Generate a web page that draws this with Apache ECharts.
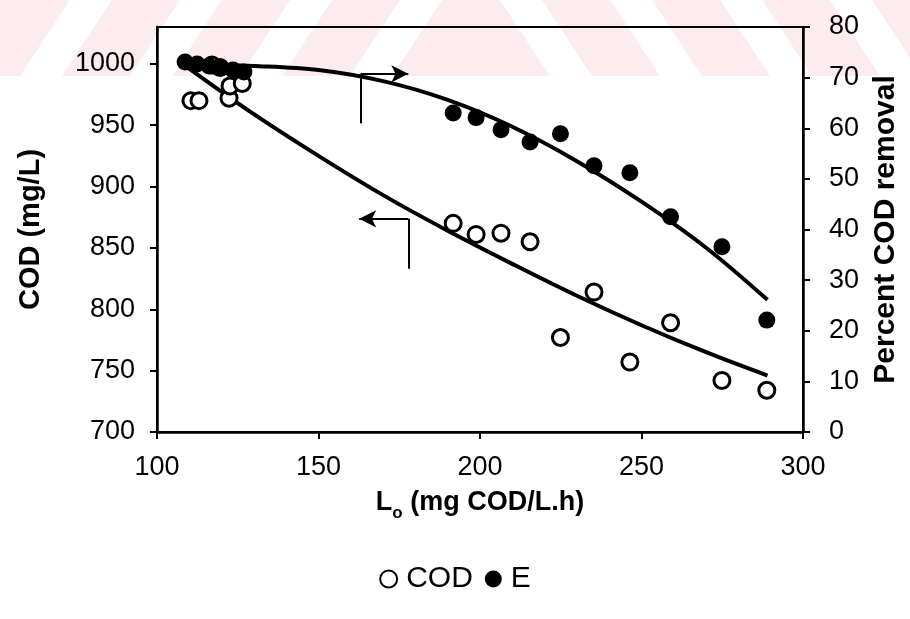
<!DOCTYPE html>
<html>
<head>
<meta charset="utf-8">
<script src="https://cdn.jsdelivr.net/npm/echarts@6/dist/echarts.min.js"></script>
<style>
  html, body { margin: 0; padding: 0; background: #fff; }
  #chart { width: 910px; height: 619px; }
</style>
</head>
<body>
<div id="chart"></div>
<script>
// Loading rate L_o (mg COD/L.h) and effluent COD (mg/L)
const codLoad  = [110.5, 113, 117, 119.5, 122.3, 122.6, 126.4, 191.7, 198.8, 206.5, 215.5, 224.9, 235.3, 246.4, 259.0, 274.9, 288.8];
const codValue = [970, 970, 999, 997, 972, 982, 984, 870, 861, 862, 855, 777, 814, 757, 789, 742, 734];

// Loading rate and percent COD removal E
const eLoad  = [108.7, 112.4, 116.1, 119.8, 123.5, 126.9, 191.7, 198.8, 206.5, 215.5, 224.9, 235.3, 246.4, 259.0, 274.9, 288.8];
const eValue = [73.1, 72.7, 72.3, 71.9, 71.5, 71.1, 63.0, 62.1, 59.7, 57.3, 58.9, 52.6, 51.2, 42.5, 36.6, 22.1];

// Trend curves through the data
const fitLoad = [109, 130, 150, 170, 190, 210, 230, 250, 270, 289];
const codFit  = [998, 959, 925, 893, 864, 837, 811, 787, 765, 746];
const eFit    = [72.7, 72.3, 71.5, 69.3, 65.6, 60.3, 53.5, 45.5, 36.4, 26.1];

// Axis ticks
const xTicks = { min: 100, max: 300, step: 50 };
const codTicks = { min: 700, max: 1030, step: 50 };
const eTicks = { min: 0, max: 80, step: 10 };

// Pointer arrows telling which axis each curve belongs to
const eArrow = { load: [163.1, 177.8], top: 70.75, bottom: 61.0 };
const codArrow = { load: [177.8, 162.6], top: 873.7, bottom: 833.1 };

const pairs = (xs, ys) => xs.map((x, i) => [x, ys[i]]);

const FONT = 'Liberation Sans, Arial, Helvetica, sans-serif';
const PINK = '#fdecef';

// faint diagonal banding along the top edge
const bands = [{ type: 'rect', shape: { x: 0, y: 0, width: 910, height: 76 }, style: { fill: PINK }, z: -10, silent: true }];
[70, 180, 290, 400].forEach(x0 => bands.push({
  type: 'polygon', z: -9, silent: true,
  shape: { points: [[x0, 0], [x0 + 42, 0], [x0 - 8, 76], [x0 - 50, 76]] },
  style: { fill: '#fff' }
}));
[500, 610, 720, 830].forEach(x0 => bands.push({
  type: 'polygon', z: -9, silent: true,
  shape: { points: [[x0, 0], [x0 + 42, 0], [x0 + 92, 76], [x0 + 50, 76]] },
  style: { fill: '#fff' }
}));

const axisLine = { show: true, lineStyle: { color: '#000', width: 2.5 } };
const axisTick = { show: true, inside: false, length: 7, lineStyle: { color: '#000', width: 2 } };
const tickFont = { color: '#000', fontSize: 27, fontFamily: FONT, formatter: v => String(v) };

const chart = echarts.init(document.getElementById('chart'), null, { renderer: 'canvas' });
chart.setOption({
  backgroundColor: '#fff',
  animation: false,
  graphic: bands,
  grid: {
    left: 157, right: 107, top: 27, bottom: 187,
    show: true, borderColor: '#000', borderWidth: 2, backgroundColor: 'transparent'
  },
  legend: {
    data: ['COD', 'E'],
    left: 'center', bottom: 20,
    icon: 'circle', itemWidth: 17, itemHeight: 17, itemGap: 12,
    textStyle: { color: '#000', fontSize: 30, fontFamily: FONT, padding: [0, 0, 0, 4] }
  },
  xAxis: {
    type: 'value', min: xTicks.min, max: xTicks.max, interval: xTicks.step,
    splitLine: { show: false },
    axisLine, axisTick,
    axisLabel: { ...tickFont, margin: 22 },
    name: '{a|L}{b|o}{a| (mg COD/L.h)}',
    nameLocation: 'middle', nameGap: 54,
    nameTextStyle: {
      color: '#000',
      rich: {
        a: { fontSize: 27, fontWeight: 'bold', fontFamily: FONT, color: '#000', lineHeight: 34, verticalAlign: 'middle' },
        b: { fontSize: 17, fontWeight: 'bold', fontFamily: FONT, color: '#000', lineHeight: 34, verticalAlign: 'bottom', padding: [0, 0, -2, 0] }
      }
    }
  },
  yAxis: [
    {
      type: 'value', min: codTicks.min, max: codTicks.max, interval: codTicks.step,
      position: 'left',
      splitLine: { show: false },
      axisLine, axisTick,
      axisLabel: { ...tickFont, margin: 22, showMaxLabel: false },
      name: 'COD (mg/L)', nameLocation: 'middle', nameGap: 112, nameRotate: 90,
      nameTextStyle: { color: '#000', fontSize: 29, fontWeight: 'bold', fontFamily: FONT }
    },
    {
      type: 'value', min: eTicks.min, max: eTicks.max, interval: eTicks.step,
      position: 'right',
      splitLine: { show: false },
      axisLine, axisTick,
      axisLabel: { ...tickFont, margin: 26 },
      name: 'Percent COD removal', nameLocation: 'middle', nameGap: 68, nameRotate: 90,
      nameTextStyle: { color: '#000', fontSize: 30, fontWeight: 'bold', fontFamily: FONT }
    }
  ],
  series: [
    {
      name: 'COD fit', type: 'line', yAxisIndex: 0, z: 2,
      data: pairs(fitLoad, codFit), smooth: 0.35, showSymbol: false,
      lineStyle: { color: '#000', width: 4 },
      markLine: {
        silent: true, animation: false, symbol: ['none', 'none'],
        label: { show: false },
        lineStyle: { color: '#000', width: 2, type: 'solid' },
        data: [
          [{ coord: [codArrow.load[0], codArrow.top] }, { coord: [codArrow.load[0], codArrow.bottom] }],
          [{ coord: [codArrow.load[0], codArrow.top] }, { coord: [codArrow.load[1], codArrow.top], symbol: 'arrow', symbolSize: [13, 17] }]
        ]
      }
    },
    {
      name: 'E fit', type: 'line', yAxisIndex: 1, z: 2,
      data: pairs(fitLoad, eFit), smooth: 0.35, showSymbol: false,
      lineStyle: { color: '#000', width: 4 },
      markLine: {
        silent: true, animation: false, symbol: ['none', 'none'],
        label: { show: false },
        lineStyle: { color: '#000', width: 2, type: 'solid' },
        data: [
          [{ coord: [eArrow.load[0], eArrow.top] }, { coord: [eArrow.load[0], eArrow.bottom] }],
          [{ coord: [eArrow.load[0], eArrow.top] }, { coord: [eArrow.load[1], eArrow.top], symbol: 'arrow', symbolSize: [13, 17] }]
        ]
      }
    },
    {
      name: 'COD', type: 'scatter', yAxisIndex: 0, z: 3,
      data: pairs(codLoad, codValue),
      symbol: 'circle', symbolSize: 16,
      itemStyle: { color: '#fff', borderColor: '#000', borderWidth: 3, opacity: 1 }
    },
    {
      name: 'E', type: 'scatter', yAxisIndex: 1, z: 4,
      data: pairs(eLoad, eValue),
      symbol: 'circle', symbolSize: 17,
      itemStyle: { color: '#000', borderColor: '#000', borderWidth: 0, opacity: 1 }
    }
  ]
});
</script>
</body>
</html>
